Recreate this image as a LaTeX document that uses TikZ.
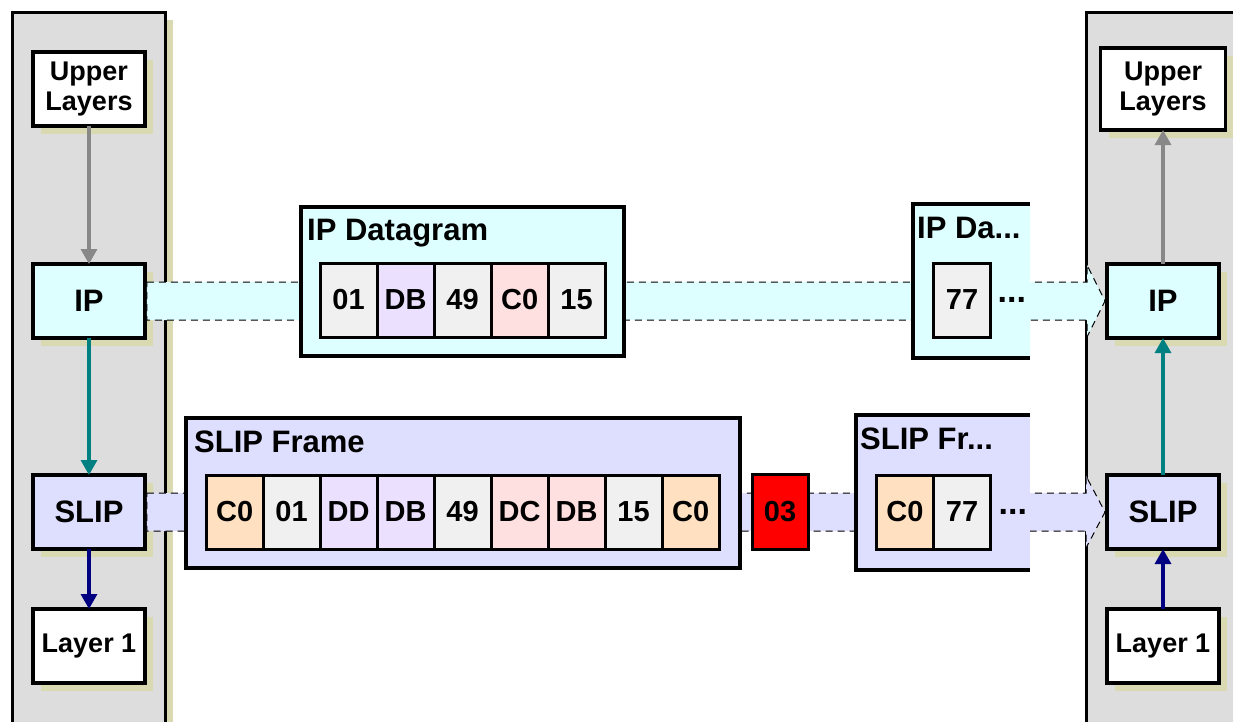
\documentclass[tikz,border=0pt]{standalone}
\usepackage{fontspec}
\setmainfont{Liberation Sans}
\usepackage{tikz}
\usetikzlibrary{arrows.meta, positioning, calc, shadows}

\definecolor{panelgray}{RGB}{221,221,221}
\definecolor{shadowtan}{RGB}{218,218,178}
\definecolor{ipfill}{RGB}{221,255,255}
\definecolor{slipfill}{RGB}{222,222,255}
\definecolor{bgray}{RGB}{240,240,240}
\definecolor{bpurple}{RGB}{236,224,255}
\definecolor{bpink}{RGB}{255,224,224}
\definecolor{bpeach}{RGB}{255,224,192}
\definecolor{arrgray}{RGB}{136,136,136}
\definecolor{arrteal}{RGB}{0,128,128}
\definecolor{arrnavy}{RGB}{0,0,128}

\tikzset{
  tanshadow/.style={drop shadow={shadow xshift=8pt, shadow yshift=-8pt, fill=shadowtan, opacity=1}},
  panel/.style={draw, line width=3pt, fill=panelgray, tanshadow},
  layerbox/.style={draw, line width=3.5pt, outer sep=0pt, minimum width=112pt, minimum height=74pt,
    align=center, font=\fontsize{31}{34}\selectfont\bfseries, tanshadow},
  smalltxt/.style={font=\fontsize{27}{30}\selectfont\bfseries},
  bytebox/.style={draw, line width=3pt, outer sep=0pt, inner sep=0pt, minimum width=57pt,
    minimum height=74pt, font=\fontsize{29}{30}\selectfont\bfseries},
  frame/.style={draw, line width=3.5pt, outer sep=0pt},
  frameline/.style={line width=3.5pt},
  title/.style={inner sep=0pt, anchor=base west, font=\fontsize{31}{34}\selectfont\bfseries},
  more/.style={inner sep=0pt, font=\fontsize{34}{34}\selectfont\bfseries},
  flow/.style={line width=3.2pt, -{Triangle[width=16pt, length=15pt]}},
  band/.style={draw=black, line width=1pt, dash pattern=on 7pt off 5pt}
}

\begin{document}
\begin{tikzpicture}[x=1pt, y=-1pt]
    \useasboundingbox (0,0) rectangle (1233,721);

    % the two stations
    \draw[panel] (12,12) rectangle (165,740);
    \draw[panel] (1086,12) rectangle (1260,740);

    % sending side
    \node[layerbox, smalltxt, fill=white] (ulL) at (89,89) {Upper\\Layers};
    \node[layerbox, fill=ipfill] (ipL) at (89,301) {IP};
    \node[layerbox, fill=slipfill] (slipL) at (89,512) {SLIP};
    \node[layerbox, smalltxt, fill=white] (l1L) at (89,646) {Layer 1};

    \draw[flow, arrgray] (ulL) -- (ipL);
    \draw[flow, arrteal] (ipL) -- (slipL);
    \draw[flow, arrnavy] (slipL) -- (l1L);

    % receiving side
    \node[layerbox, smalltxt, fill=white, minimum width=125pt, minimum height=82pt] (ulR) at (1163,89) {Upper\\Layers};
    \node[layerbox, fill=ipfill] (ipR) at (1163,301) {IP};
    \node[layerbox, fill=slipfill] (slipR) at (1163,512) {SLIP};
    \node[layerbox, smalltxt, fill=white] (l1R) at (1163,646) {Layer 1};

    \draw[flow, arrgray] (ipR) -- (ulR);
    \draw[flow, arrteal] (slipR) -- (ipR);
    \draw[flow, arrnavy] (l1R) -- (slipR);

    % flows between the stations
    \draw[band, fill=ipfill] ($(ipL.east)+(1.75,-19)$) -- ($(ipR.west)+(-20,-19)$)
      -- ($(ipR.west)+(-20,-36)$) -- ($(ipR.west)+(-2,0)$) -- ($(ipR.west)+(-20,36)$)
      -- ($(ipR.west)+(-20,19)$) -- ($(ipL.east)+(1.75,19)$) -- cycle;
    \draw[band, fill=slipfill] ($(slipL.east)+(1.75,-19)$) -- ($(slipR.west)+(-21,-19)$)
      -- ($(slipR.west)+(-21,-36)$) -- ($(slipR.west)+(-2,0)$) -- ($(slipR.west)+(-21,36)$)
      -- ($(slipR.west)+(-21,19)$) -- ($(slipL.east)+(1.75,19)$) -- cycle;

    % IP datagram
    \node[frame, fill=ipfill, minimum width=323pt, minimum height=149pt] (ipdg) at (462.5,281.5) {};
    \node[title] (ipdgT) at (307,240) {IP Datagram};
    \node[bytebox, fill=bgray] (ip1) at (348.6,300) {01};
    \node[bytebox, fill=bpurple, right=0pt of ip1] (ip2) {DB};
    \node[bytebox, fill=bgray, right=0pt of ip2] (ip3) {49};
    \node[bytebox, fill=bpink, right=0pt of ip3] (ip4) {C0};
    \node[bytebox, fill=bgray, right=0pt of ip4] (ip5) {15};

    % SLIP frame
    \node[frame, fill=slipfill, minimum width=554pt, minimum height=150pt] (sf) at (463,493) {};
    \node[title] (sfT) at (194,452) {SLIP Frame};
    \node[bytebox, fill=bpeach] (sf1) at (234.6,512) {C0};
    \node[bytebox, fill=bgray, right=0pt of sf1] (sf2) {01};
    \node[bytebox, fill=bpurple, right=0pt of sf2] (sf3) {DD};
    \node[bytebox, fill=bpurple, right=0pt of sf3] (sf4) {DB};
    \node[bytebox, fill=bgray, right=0pt of sf4] (sf5) {49};
    \node[bytebox, fill=bpink, right=0pt of sf5] (sf6) {DC};
    \node[bytebox, fill=bpink, right=0pt of sf6] (sf7) {DB};
    \node[bytebox, fill=bgray, right=0pt of sf7] (sf8) {15};
    \node[bytebox, fill=bpeach, right=0pt of sf8] (sf9) {C0};

    \node[bytebox, fill=red, minimum width=56pt, minimum height=75pt] (junk) at (780,511.5) {03};

    % next datagram, cut off
    \node[fill=ipfill, outer sep=0pt, minimum width=117pt, minimum height=154pt] (ipNext) at (971.5,281) {};
    \draw[frameline] (ipNext.north east) -- (ipNext.north west) -- (ipNext.south west) -- (ipNext.south east);
    \node[title] (ipNextT) at (917,238) {IP Da...};
    \node[bytebox, fill=bgray] (ipN1) at (962,300) {77};
    \node[more, right=7pt of ipN1] (ipN2) {...};

    % next frame, cut off
    \node[fill=slipfill, outer sep=0pt, minimum width=174pt, minimum height=155pt] (sfNext) at (943,492.5) {};
    \draw[frameline] (sfNext.north east) -- (sfNext.north west) -- (sfNext.south west) -- (sfNext.south east);
    \node[title] (sfNextT) at (860,449) {SLIP Fr...};
    \node[bytebox, fill=bpeach] (sfN1) at (905,512) {C0};
    \node[bytebox, fill=bgray, right=0pt of sfN1] (sfN2) {77};
    \node[more, right=8pt of sfN2] (sfN3) {...};

\end{tikzpicture}
\end{document}
